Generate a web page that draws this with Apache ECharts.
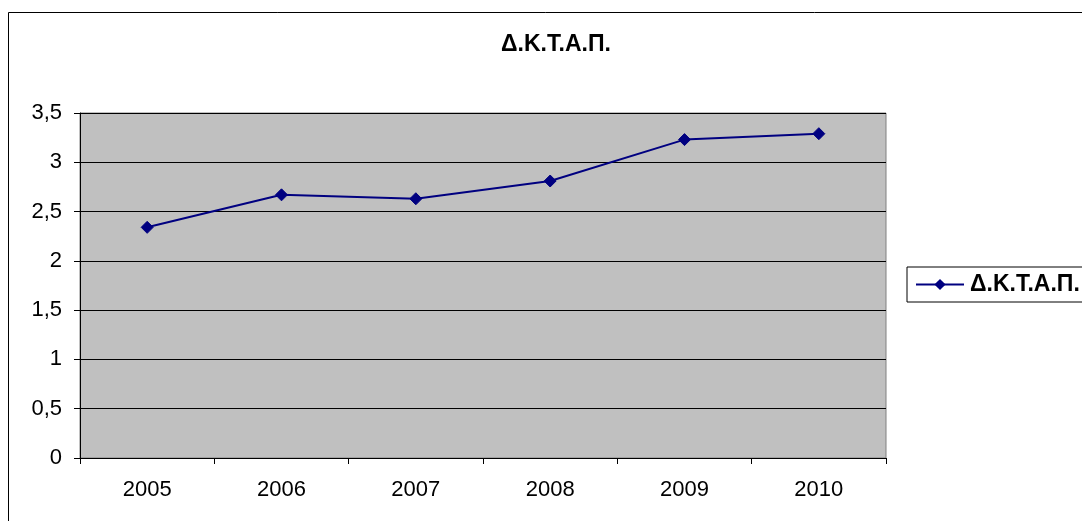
<!DOCTYPE html>
<html>
<head>
<meta charset="utf-8">
<script src="https://cdn.jsdelivr.net/npm/echarts@6/dist/echarts.min.js"></script>
<style>html,body{margin:0;padding:0;background:#fff;}#c{width:1082px;height:521px;}</style>
</head>
<body>
<div id="c"></div>
<script>
const categories = ['2005', '2006', '2007', '2008', '2009', '2010'];
const seriesName = 'Δ.Κ.Τ.Α.Π.';
const values = [2.34, 2.67, 2.63, 2.81, 3.23, 3.29];
const chartTitle = 'Δ.Κ.Τ.Α.Π.';

const chart = echarts.init(document.getElementById('c'), null, {renderer: 'canvas'});
const FONT = 'Liberation Sans, Arial, sans-serif';
chart.setOption({
  animation: false,
  backgroundColor: '#ffffff',
  graphic: [{
    type: 'rect', z: -10,
    shape: {x: 8.5, y: 12.5, width: 1100, height: 530},
    style: {fill: 'none', stroke: '#000', lineWidth: 1}
  }, {
    type: 'rect', z: -5,
    shape: {x: 80, y: 113, width: 806, height: 345},
    style: {fill: '#c0c0c0', stroke: '#808080', lineWidth: 1}
  }],
  title: {
    text: chartTitle, left: 551, top: 28, textAlign: 'center',
    textStyle: {fontFamily: FONT, fontSize: 23, fontWeight: 'bold', color: '#000'}
  },
  legend: {
    left: 907, top: 267, orient: 'vertical',
    padding: [6, 30, 6, 8],
    borderColor: '#000', borderWidth: 1,
    itemWidth: 48, itemHeight: 14, itemGap: 0,
    textStyle: {fontFamily: FONT, fontSize: 23, fontWeight: 'bold', color: '#000', padding: [0, 0, 0, 1]},
    data: [seriesName]
  },
  grid: {left: 80, right: 196, top: 113, bottom: 63, containLabel: false},
  xAxis: {
    type: 'category', data: categories, boundaryGap: true,
    axisLine: {show: true, lineStyle: {color: '#000', width: 1}},
    axisTick: {show: true, inside: false, length: 6, lineStyle: {color: '#000'}},
    axisLabel: {fontFamily: FONT, fontSize: 22, color: '#000', margin: 21},
    splitLine: {show: false}
  },
  yAxis: {
    type: 'value', min: 0, max: 3.5, interval: 0.5,
    axisLine: {show: true, lineStyle: {color: '#000', width: 1}},
    axisTick: {show: true, inside: false, length: 6, lineStyle: {color: '#000'}},
    axisLabel: {fontFamily: FONT, fontSize: 22, color: '#000', margin: 18,
      formatter: v => String(v).replace('.', ',')},
    splitLine: {show: true, lineStyle: {color: '#000', width: 1}}
  },
  series: [{
    name: seriesName, type: 'line', data: values,
    symbol: 'diamond', symbolSize: 12, showSymbol: true,
    lineStyle: {color: '#000080', width: 2},
    itemStyle: {color: '#000080', borderColor: '#000080'}
  }]
});
</script>
</body>
</html>
